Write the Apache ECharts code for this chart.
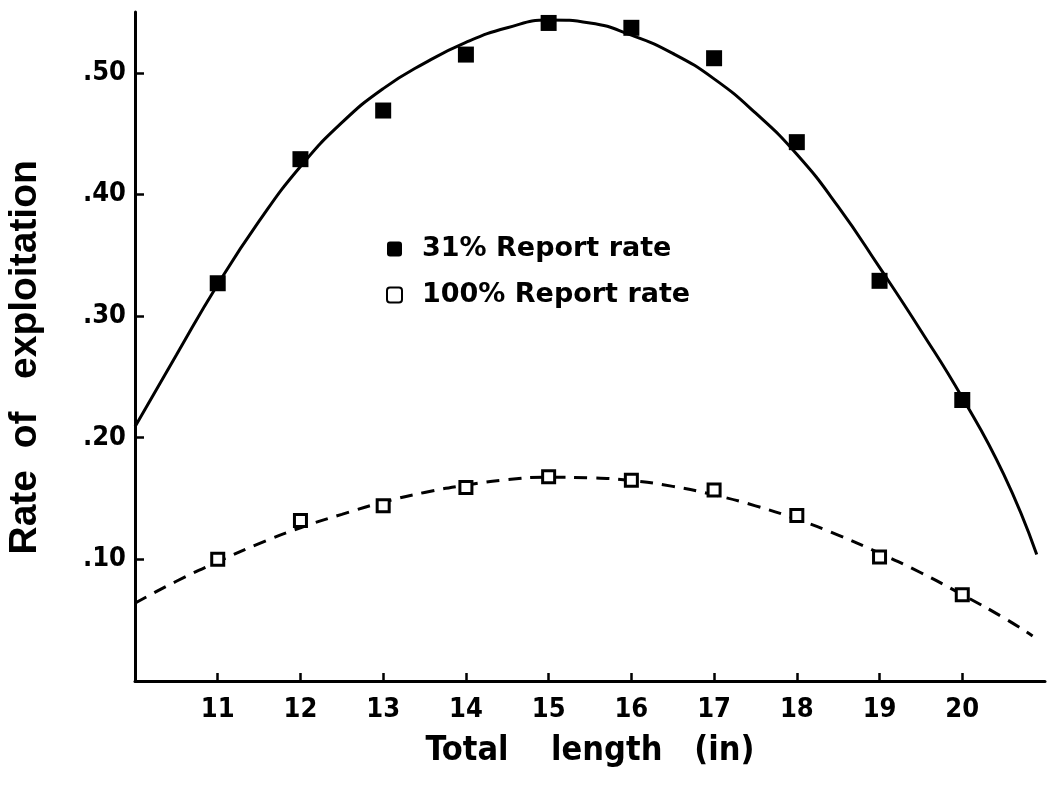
<!DOCTYPE html>
<html>
<head>
<meta charset="utf-8">
<script src="https://cdn.jsdelivr.net/npm/echarts@6/dist/echarts.min.js"></script>
<style>
html,body{margin:0;padding:0;background:#fff;}
#chart{width:1051px;height:787px;}
</style>
</head>
<body>
<div id="chart"></div>
<script>
// Observed points (total length, inches)
var lengths = [11, 12, 13, 14, 15, 16, 17, 18, 19, 20];
var rate31 = [0.327, 0.429, 0.469, 0.515, 0.541, 0.537, 0.512, 0.443, 0.329, 0.231];
var rate100 = [0.100, 0.132, 0.144, 0.159, 0.168, 0.165, 0.157, 0.136, 0.102, 0.071];

// Fitted curves
var curve31X = [10, 10.5, 11, 11.5, 12, 12.5, 13, 13.5, 14, 14.5, 15, 15.5, 16, 16.5, 17, 17.5, 18, 18.5, 19, 19.5, 20, 20.5, 20.9];
var curve31Y = [0.209, 0.268, 0.326, 0.378, 0.423, 0.459, 0.487, 0.508, 0.525, 0.537, 0.5435, 0.541, 0.531, 0.516, 0.495, 0.467, 0.433, 0.390, 0.340, 0.288, 0.233, 0.170, 0.104];
var curve100X = [10, 10.5, 11, 11.5, 12, 12.5, 13, 13.5, 14, 14.5, 15, 15.5, 16, 16.5, 17, 17.5, 18, 18.5, 19, 19.5, 20, 20.5, 20.85];
var curve100Y = [0.064, 0.082, 0.098, 0.113, 0.126, 0.137, 0.147, 0.155, 0.161, 0.1655, 0.1675, 0.167, 0.1648, 0.160, 0.153, 0.144, 0.133, 0.120, 0.105, 0.089, 0.071, 0.052, 0.037];

// Axis ticks and labels
var xTicks = [11, 12, 13, 14, 15, 16, 17, 18, 19, 20];
var yTicks = [0.1, 0.2, 0.3, 0.4, 0.5];
var yTickLabels = ['.10', '.20', '.30', '.40', '.50'];

var seriesNames = ['31% Report rate', '100% Report rate'];

function pairs(xs, ys) { return xs.map(function (x, i) { return [x, ys[i]]; }); }

var narrow = "'Liberation Sans Narrow', 'DejaVu Sans Condensed', sans-serif";
var boxIcon = 'path://M3,0 H12 Q15,0 15,3 V12 Q15,15 12,15 H3 Q0,15 0,12 V3 Q0,0 3,0 Z';

var chart = echarts.init(document.getElementById('chart'), null, {renderer: 'canvas'});
chart.setOption({
  animation: false,
  backgroundColor: '#ffffff',
  grid: {left: 135, right: 6, top: 12, bottom: 106, containLabel: false, outerBoundsMode: 'none'},
  legend: {
    orient: 'vertical',
    left: 386, top: 234,
    padding: 0,
    itemWidth: 15, itemHeight: 15,
    itemGap: 16,
    data: [
      {name: seriesNames[0], icon: boxIcon},
      {name: seriesNames[1], icon: boxIcon}
    ],
    textStyle: {
      fontFamily: 'DejaVu Sans', fontWeight: 'bold', fontSize: 27, color: '#000',
      lineHeight: 30, padding: [0, 0, 0, 15]
    }
  },
  xAxis: {
    type: 'value', min: 10, max: 21, interval: 1,
    name: 'Total    length   (in)',
    nameLocation: 'middle', nameGap: 53,
    nameTextStyle: {fontFamily: narrow, fontWeight: 'bold', fontSize: 34, color: '#000'},
    axisLine: {show: true, onZero: false, lineStyle: {color: '#000', width: 3}},
    axisTick: {show: true, inside: true, length: 8, customValues: xTicks, lineStyle: {color: '#000', width: 2.5}},
    axisLabel: {show: true, customValues: xTicks, margin: 15, fontFamily: narrow, fontWeight: 'bold', fontSize: 27, color: '#000'},
    splitLine: {show: false}
  },
  yAxis: {
    type: 'value', min: 0, max: 0.55,
    name: 'Rate  of   exploitation  ',
    nameLocation: 'middle', nameGap: 90,
    nameTextStyle: {fontFamily: "'Liberation Sans', Arial, sans-serif", fontWeight: 'bold', fontSize: 39, color: '#000'},
    axisLine: {show: true, onZero: false, lineStyle: {color: '#000', width: 3}},
    axisTick: {show: true, inside: true, length: 9, customValues: yTicks, lineStyle: {color: '#000', width: 2.5}},
    axisLabel: {
      show: true, customValues: yTicks, margin: 9,
      fontFamily: narrow, fontWeight: 'bold', fontSize: 27, color: '#000',
      formatter: function (v) {
        for (var i = 0; i < yTicks.length; i++) { if (Math.abs(yTicks[i] - v) < 1e-9) return yTickLabels[i]; }
        return '';
      }
    },
    splitLine: {show: false}
  },
  series: [
    {
      type: 'line', name: 'fit31', data: pairs(curve31X, curve31Y),
      smooth: 0.5, showSymbol: false, silent: true, z: 2,
      lineStyle: {color: '#000', width: 3}
    },
    {
      type: 'line', name: 'fit100', data: pairs(curve100X, curve100Y),
      smooth: 0.5, showSymbol: false, silent: true, z: 2,
      lineStyle: {color: '#000', width: 3, type: [13, 9]}
    },
    {
      type: 'scatter', name: seriesNames[0], data: pairs(lengths, rate31),
      symbol: 'rect', symbolSize: 16, z: 3,
      itemStyle: {color: '#000', borderColor: '#000', borderWidth: 0, opacity: 1}
    },
    {
      type: 'scatter', name: seriesNames[1], data: pairs(lengths, rate100),
      symbol: 'rect', symbolSize: 12, z: 3,
      itemStyle: {color: '#fff', borderColor: '#000', borderWidth: 3, opacity: 1}
    }
  ]
});
</script>
</body>
</html>
